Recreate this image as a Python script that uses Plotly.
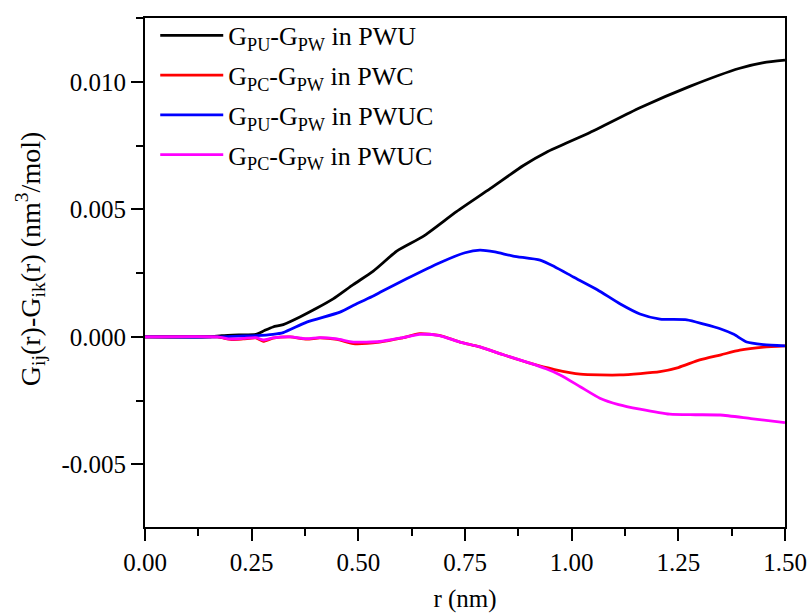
import plotly.graph_objects as go

# ---- data ----
r_pu_pwu = [0, 0.15, 0.18, 0.22, 0.26, 0.28, 0.30, 0.324, 0.363, 0.402, 0.441, 0.488, 0.535,
            0.59, 0.652, 0.73, 0.809, 0.887, 0.941, 1.043, 1.16, 1.277, 1.394, 1.45, 1.5]
g_pu_pwu = [0, 0, 0.00005, 0.00008, 0.0001, 0.00025, 0.00039, 0.00048, 0.00078, 0.00112,
            0.00149, 0.00205, 0.00258, 0.00336, 0.00394, 0.00491, 0.00581, 0.00672, 0.00724,
            0.00801, 0.00898, 0.00982, 0.01053, 0.01075, 0.01085]

r_pc_pwc = [0, 0.17, 0.2, 0.23, 0.26, 0.277, 0.30, 0.34, 0.379, 0.41, 0.45, 0.488, 0.55, 0.60,
            0.644, 0.69, 0.738, 0.785, 0.84, 0.902, 0.96, 1.02, 1.113, 1.207, 1.25, 1.30, 1.35,
            1.394, 1.45, 1.5]
g_pc_pwc = [0, 0, -0.0001, -0.00008, -0.00004, -0.00017, -0.00005, 0, -0.00009, -0.00004,
            -0.0001, -0.00026, -0.0002, -0.00005, 0.00013, 0.00006, -0.0002, -0.00039, -0.0007,
            -0.00103, -0.00128, -0.00146, -0.00149, -0.00136, -0.0012, -0.0009, -0.0007,
            -0.00052, -0.0004, -0.00035]

r_pu_pwuc = [0, 0.17, 0.22, 0.26, 0.30, 0.324, 0.379, 0.457, 0.496, 0.535, 0.551, 0.613, 0.691,
             0.75, 0.785, 0.82, 0.863, 0.926, 0.96, 1.004, 1.06, 1.113, 1.16, 1.207, 1.27,
             1.31, 1.348, 1.38, 1.41, 1.45, 1.5]
g_pu_pwuc = [0, 0, 0.00003, 0.00005, 0.0001, 0.00017, 0.00058, 0.00097, 0.0013, 0.0016,
             0.00175, 0.00228, 0.00291, 0.0033, 0.0034, 0.00333, 0.00317, 0.00301, 0.00275,
             0.00235, 0.00185, 0.0013, 0.0009, 0.0007, 0.00067, 0.0005, 0.00032, 0.0001,
             -0.0002, -0.0003, -0.00035]

r_pc_pwuc = [0, 0.17, 0.2, 0.23, 0.26, 0.277, 0.30, 0.34, 0.379, 0.41, 0.45, 0.488, 0.55, 0.60,
             0.644, 0.69, 0.738, 0.785, 0.84, 0.902, 0.94, 0.973, 1.02, 1.066, 1.11, 1.16, 1.23,
             1.29, 1.348, 1.42, 1.5]
g_pc_pwuc = [0, 0, -0.00008, -0.00006, -0.00003, -0.00012, -0.00004, 0, -0.00007, -0.00003,
             -0.00008, -0.0002, -0.00018, -0.00004, 0.0001, 0.00005, -0.0002, -0.00039, -0.0007,
             -0.00103, -0.00125, -0.00149, -0.00195, -0.0024, -0.00265, -0.00283, -0.00303,
             -0.00305, -0.00306, -0.0032, -0.00336]

series_names = ["G<sub>PU</sub>-G<sub>PW</sub> in PWU",
                "G<sub>PC</sub>-G<sub>PW</sub> in PWC",
                "G<sub>PU</sub>-G<sub>PW</sub> in PWUC",
                "G<sub>PC</sub>-G<sub>PW</sub> in PWUC"]
series_colors = ["#000000", "#ff0000", "#0000ff", "#ff00ff"]

x_tickvals = [0, 0.25, 0.5, 0.75, 1.0, 1.25, 1.5]
x_ticktext = ["0.00", "0.25", "0.50", "0.75", "1.00", "1.25", "1.50"]
y_tickvals = [-0.005, 0.0, 0.005, 0.010]
y_ticktext = ["-0.005", "0.000", "0.005", "0.010"]
x_title = "r (nm)"
y_title = "G<sub>ij</sub>(r)-G<sub>ik</sub>(r) (nm<sup>3</sup>/mol)"

xs = [r_pu_pwu, r_pc_pwc, r_pu_pwuc, r_pc_pwuc]
ys = [g_pu_pwu, g_pc_pwc, g_pu_pwuc, g_pc_pwuc]

FONT = "Times New Roman, Liberation Serif, DejaVu Serif, serif"

fig = go.Figure()
for i, (x, y, n, c) in enumerate(zip(xs, ys, series_names, series_colors)):
    fig.add_trace(go.Scatter(x=x, y=y, mode="lines", name=n, legendgroup=f"g{i}",
                             line=dict(color=c, width=2.8, shape="spline", smoothing=0.6)))

axis_common = dict(showline=True, linecolor="black", linewidth=2, mirror=True,
                   ticks="outside", ticklen=12, tickwidth=2, tickcolor="black",
                   showgrid=False, zeroline=False, automargin=False,
                   tickfont=dict(family=FONT, size=25, color="black"))

fig.update_layout(
    width=809, height=613,
    margin=dict(l=145, r=24, t=12, b=86),
    paper_bgcolor="white", plot_bgcolor="white",
    font=dict(family=FONT, size=25, color="black"),
    xaxis=dict(range=[0, 1.5], tickvals=x_tickvals, ticktext=x_ticktext,
               minor=dict(ticks="outside", ticklen=7, tickwidth=2, tickcolor="black", dtick=0.125, tick0=0),
               title=dict(text=x_title, font=dict(family=FONT, size=25), standoff=22),
               **axis_common),
    yaxis=dict(range=[-0.00745, 0.0125], tickvals=y_tickvals, ticktext=y_ticktext,
               minor=dict(ticks="outside", ticklen=7, tickwidth=2, tickcolor="black", dtick=0.0025, tick0=0),
               **axis_common),
    legend=dict(x=0.016, y=1.012, xanchor="left", yanchor="top",
                bgcolor="rgba(0,0,0,0)", borderwidth=0,
                font=dict(family=FONT, size=26, color="black"),
                itemwidth=63, tracegroupgap=3),
    showlegend=True,
)

# y-axis title placed as a rotated annotation (to match the reference's vertical position)
fig.add_annotation(text=y_title, xref="paper", yref="paper",
                   x=(30 - 145) / 640, y=(527 - 256) / 515,
                   xanchor="center", yanchor="middle", textangle=-90, showarrow=False,
                   font=dict(family=FONT, size=28, color="black"))

fig.write_html("out.html")
